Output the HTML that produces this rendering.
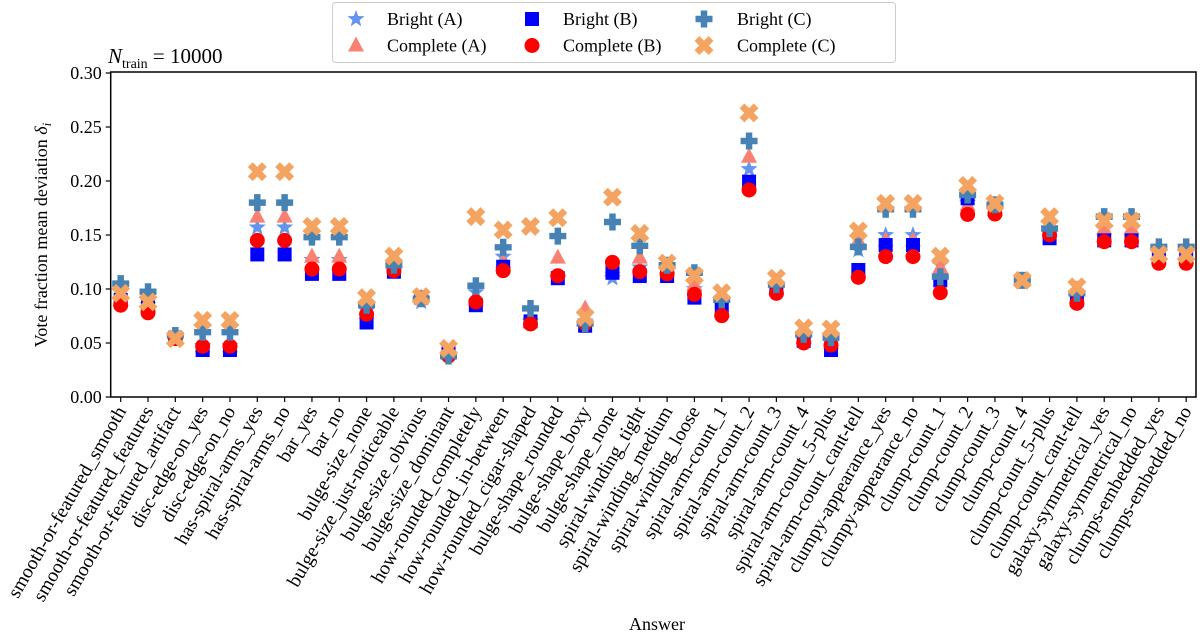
<!DOCTYPE html>
<html><head><meta charset="utf-8"><style>
body{margin:0;background:#fff}
svg{display:block;font-family:"Liberation Serif","DejaVu Serif",serif}
</style></head><body>
<svg id="chart" width="1200" height="635" viewBox="0 0 1200 635"></svg>
<script>
const categories=["smooth-or-featured_smooth","smooth-or-featured_features","smooth-or-featured_artifact","disc-edge-on_yes","disc-edge-on_no","has-spiral-arms_yes","has-spiral-arms_no","bar_yes","bar_no","bulge-size_none","bulge-size_just-noticeable","bulge-size_obvious","bulge-size_dominant","how-rounded_completely","how-rounded_in-between","how-rounded_cigar-shaped","bulge-shape_rounded","bulge-shape_boxy","bulge-shape_none","spiral-winding_tight","spiral-winding_medium","spiral-winding_loose","spiral-arm-count_1","spiral-arm-count_2","spiral-arm-count_3","spiral-arm-count_4","spiral-arm-count_5-plus","spiral-arm-count_cant-tell","clumpy-appearance_yes","clumpy-appearance_no","clump-count_1","clump-count_2","clump-count_3","clump-count_4","clump-count_5-plus","clump-count_cant-tell","galaxy-symmetrical_yes","galaxy-symmetrical_no","clumps-embedded_yes","clumps-embedded_no"];
const brightA=[.09,.085,.055,.047,.047,.157,.157,.127,.127,.08,.12,.088,.04,.097,.13,.07,.11,.07,.11,.12,.12,.1,.085,.211,.103,.055,.05,.136,.15,.15,.122,.18,.175,.108,.155,.095,.155,.155,.135,.135];
const completeA=[.09,.085,.055,.047,.047,.167,.167,.13,.13,.078,.12,.092,.04,.09,.125,.07,.129,.082,.12,.129,.12,.104,.08,.2225,.1,.055,.05,.145,.145,.145,.12,.178,.173,.108,.153,.1,.156,.156,.133,.133];
const brightB=[.09,.083,.055,.0435,.0435,.132,.132,.114,.114,.069,.116,.092,.042,.085,.1206,.07,.11,.066,.115,.112,.112,.092,.081,.1994,.1,.052,.0435,.1176,.1407,.1407,.108,.184,.176,.108,.147,.09,.145,.145,.132,.132];
const completeB=[.085,.078,.054,.047,.047,.145,.145,.1185,.1185,.0766,.117,.091,.038,.088,.117,.0676,.1123,.068,.1247,.116,.114,.095,.0753,.1917,.096,.05,.048,.1108,.13,.13,.0966,.169,.1694,.108,.15,.0867,.1438,.1438,.1238,.1238];
const brightC=[.105,.0975,.057,.06,.06,.18,.18,.148,.148,.085,.122,.091,.038,.103,.1386,.082,.149,.068,.162,.14,.122,.115,.09,.237,.104,.058,.055,.139,.1738,.1738,.1114,.187,.178,.108,.156,.096,.167,.167,.139,.139];
const completeC=[.096,.088,.054,.071,.071,.2086,.2086,.158,.158,.092,.1305,.093,.045,.167,.1546,.158,.166,.074,.185,.1515,.124,.1123,.0966,.263,.11,.064,.063,.1537,.1793,.1793,.1305,.196,.1793,.108,.167,.102,.163,.163,.132,.132];
const yTicks=[0,0.05,0.10,0.15,0.20,0.25,0.30];
const yTickLabels=["0.00","0.05","0.10","0.15","0.20","0.25","0.30"];

const NS="http://www.w3.org/2000/svg";
const svg=document.getElementById('chart');
const L=110.7,R=1196,T=72,B=397;
function xs(i){return 120.7+i*27.32;}
function ys(v){return B-v*1080;}
function mk(tag,attrs,parent){const e=document.createElementNS(NS,tag);for(const k in attrs)e.setAttribute(k,attrs[k]);(parent||svg).appendChild(e);return e;}

function star(cx,cy,r){let p=[];for(let k=0;k<10;k++){const rr=k%2?r*0.42:r;const a=-Math.PI/2+k*Math.PI/5;p.push((cx+rr*Math.cos(a)).toFixed(2)+","+(cy+rr*Math.sin(a)).toFixed(2));}return p.join(" ");}
function plusPts(cx,cy,r){const w=r*0.38;return [[-w,-r],[w,-r],[w,-w],[r,-w],[r,w],[w,w],[w,r],[-w,r],[-w,w],[-r,w],[-r,-w],[-w,-w]].map(p=>(cx+p[0])+","+(cy+p[1])).join(" ");}
function drawMarker(type,cx,cy,color,g){
  let e;
  if(type==='star')e=mk('polygon',{points:star(cx,cy,9),fill:color},g);
  else if(type==='tri')e=mk('polygon',{points:`${cx},${cy-9} ${cx+8},${cy+6} ${cx-8},${cy+6}`,fill:color},g);
  else if(type==='sq')e=mk('rect',{x:cx-7,y:cy-7,width:14,height:14,fill:color},g);
  else if(type==='circ')e=mk('circle',{cx:cx,cy:cy,r:7.5,fill:color},g);
  else if(type==='plus')e=mk('polygon',{points:plusPts(cx,cy,8.5),fill:color},g);
  else{
    e=mk('g',{transform:`translate(${cx} ${cy}) rotate(45)`},g);
    mk('rect',{x:-10,y:-3.4,width:20,height:6.8,fill:color},e);
    mk('rect',{x:-3.4,y:-10,width:6.8,height:20,fill:color},e);
  }
  return e;
}

const frame=mk('rect',{x:L,y:T,width:R-L,height:B-T,fill:'none',stroke:'#000','stroke-width':1.5});



yTicks.forEach((v,i)=>{
  const y=ys(v);
  const t=mk('line',{x1:L-5,x2:L,y1:y,y2:y,stroke:'#000','stroke-width':1.2});
  
  
  const lb=mk('text',{x:L-9,y:y+6,'text-anchor':'end','font-size':18});
  lb.textContent=yTickLabels[i];
  
  
});

categories.forEach((c,i)=>{
  const x=xs(i);
  const t=mk('line',{x1:x,x2:x,y1:B,y2:B+5,stroke:'#000','stroke-width':1.2});
  
  
  const ax=x+6,ay=B+14;
  const lb=mk('text',{x:ax,y:ay,'text-anchor':'end','font-size':19.5,transform:`rotate(-60 ${ax} ${ay})`});
  lb.textContent=c;
  
  
});

const series=[
 {name:'bright-a',data:brightA,type:'star',color:'#6495ED'},
 {name:'complete-a',data:completeA,type:'tri',color:'#FA8072'},
 {name:'bright-b',data:brightB,type:'sq',color:'#0000FF'},
 {name:'complete-b',data:completeB,type:'circ',color:'#FF0000'},
 {name:'bright-c',data:brightC,type:'plus',color:'#4682B4'},
 {name:'complete-c',data:completeC,type:'x',color:'#F4A460'}
];
series.forEach(s=>{
  const g=mk('g',{});
  
  
  s.data.forEach((v,i)=>{
    const m=drawMarker(s.type,xs(i),ys(v),s.color,g);
    
    
  });
});

const lg=mk('g',{});


const box=mk('rect',{x:332.5,y:2.5,width:563,height:60,rx:3,fill:'#fff',stroke:'#ccc','stroke-width':1},lg);


const legCols=[356,532,704],legText=[387,563,737],legRows=[19,45.5];
const legOrder=[[0,1],[2,3],[4,5]];
const legLabels=['Bright (A)','Complete (A)','Bright (B)','Complete (B)','Bright (C)','Complete (C)'];
legOrder.forEach((col,ci)=>col.forEach((si,ri)=>{
  const s=series[si];
  const m=drawMarker(s.type,legCols[ci],legRows[ri],s.color,lg);
  
  
  const t=mk('text',{x:legText[ci],y:legRows[ri]+6,'font-size':18},lg);
  t.textContent=legLabels[si];
  
  
}));

const tt=mk('text',{x:108,y:63,'font-size':21});
tt.innerHTML='<tspan font-style="italic">N</tspan><tspan font-size="14" dy="5">train</tspan><tspan dy="-5"> = 10000</tspan>';



const yl=mk('text',{x:0,y:0,'font-size':18,'text-anchor':'middle',transform:'translate(47 235) rotate(-90)'});
yl.innerHTML='Vote fraction mean deviation <tspan font-style="italic">δ</tspan><tspan font-style="italic" font-size="13" dy="4">i</tspan>';


const xl=mk('text',{x:657,y:630,'font-size':18,'text-anchor':'middle'});
xl.textContent='Answer';


</script>
</body></html>
